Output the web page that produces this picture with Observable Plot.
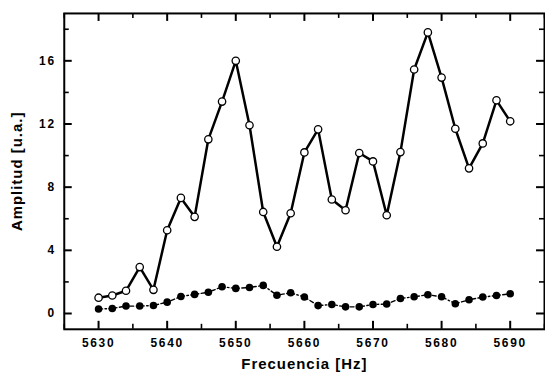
<!DOCTYPE html>
<html>
<head>
<meta charset="utf-8">
<script src="https://cdn.jsdelivr.net/npm/d3@7"></script>
<script src="https://cdn.jsdelivr.net/npm/@observablehq/plot@0.6"></script>
<style>
  html, body { margin: 0; padding: 0; background: #fff; overflow: hidden; }
  svg text { font-family: "Liberation Sans", Arial, sans-serif; font-weight: bold; }
  g[aria-label$="tick label"] text { font-size: 12px; letter-spacing: 1.7px; }
  g[aria-label="x-axis label"] text, g[aria-label="y-axis label"] text { font-size: 15px; letter-spacing: 1px; }
</style>
</head>
<body>
<div id="chart"></div>
<script>
const freq = [5630, 5632, 5634, 5636, 5638, 5640, 5642, 5644, 5646, 5648, 5650, 5652, 5654, 5656, 5658, 5660,
              5662, 5664, 5666, 5668, 5670, 5672, 5674, 5676, 5678, 5680, 5682, 5684, 5686, 5688, 5690];
const openSeries = [1.0, 1.14, 1.44, 2.94, 1.5, 5.27, 7.32, 6.12, 11.03, 13.42, 16.0, 11.92, 6.43, 4.23, 6.35, 10.2,
                    11.66, 7.22, 6.54, 10.16, 9.63, 6.22, 10.22, 15.45, 17.8, 14.94, 11.7, 9.19, 10.77, 13.5, 12.17];
const filledSeries = [0.28, 0.32, 0.47, 0.47, 0.51, 0.72, 1.08, 1.21, 1.35, 1.69, 1.59, 1.65, 1.78, 1.16, 1.31, 1.04,
                      0.5, 0.57, 0.42, 0.42, 0.57, 0.6, 0.95, 1.06, 1.19, 1.06, 0.62, 0.87, 1.04, 1.14, 1.25];
const xMajor = [5630, 5640, 5650, 5660, 5670, 5680, 5690];
const xMinor = [5625, 5635, 5645, 5655, 5665, 5675, 5685, 5695];
const yMajor = [0, 4, 8, 12, 16];
const yMinor = [2, 6, 10, 14, 18];
const xTitle = "Frecuencia [Hz]";
const yTitle = "Amplitud [u.a.]";

const xDomain = [5625, 5695];
const yDomain = [-1, 19];

const openData = freq.map((f, i) => ({f, v: openSeries[i]}));
const filledData = freq.map((f, i) => ({f, v: filledSeries[i]}));

const W = 547, H = 376, ML = 64, MR = 1, MT = 13, MB = 46;
const PW = W - ML - MR, PH = H - MT - MB;
// tick lengths in pixels, converted to data units through the domain spans
const MAJ = 8, MIN = 5;
const kx = (xDomain[1] - xDomain[0]) / PW, ky = (yDomain[1] - yDomain[0]) / PH;

const chart = Plot.plot({
  width: W,
  height: H,
  marginLeft: ML,
  marginRight: MR,
  marginTop: MT,
  marginBottom: MB,
  style: {background: "white", color: "black"},
  x: {domain: xDomain},
  y: {domain: yDomain},
  marks: [
    Plot.frame({stroke: "black", strokeWidth: 2, fill: "none"}),
    Plot.axisX(xMajor, {anchor: "bottom", tickSize: 0, tickPadding: 9, tickFormat: d => String(d),
      label: xTitle, labelAnchor: "center", labelArrow: "none", labelOffset: 40}),
    Plot.axisY(yMajor, {anchor: "left", tickSize: 0, tickPadding: 8.5, tickFormat: d => String(d),
      label: yTitle, labelAnchor: "center", labelArrow: "none", labelOffset: 53}),
    // inward ticks on all four sides
    Plot.ruleX(xMajor, {x: d => d, y1: yDomain[0], y2: yDomain[0] + MAJ * ky, stroke: "black", strokeWidth: 2}),
    Plot.ruleX(xMinor, {x: d => d, y1: yDomain[0], y2: yDomain[0] + MIN * ky, stroke: "black", strokeWidth: 1.6}),
    Plot.ruleX(xMajor, {x: d => d, y1: yDomain[1] - MAJ * ky, y2: yDomain[1], stroke: "black", strokeWidth: 2}),
    Plot.ruleX(xMinor, {x: d => d, y1: yDomain[1] - MIN * ky, y2: yDomain[1], stroke: "black", strokeWidth: 1.6}),
    Plot.ruleY(yMajor, {y: d => d, x1: xDomain[0], x2: xDomain[0] + MAJ * kx, stroke: "black", strokeWidth: 2}),
    Plot.ruleY(yMinor, {y: d => d, x1: xDomain[0], x2: xDomain[0] + MIN * kx, stroke: "black", strokeWidth: 1.6}),
    Plot.ruleY(yMajor, {y: d => d, x1: xDomain[1] - MAJ * kx, x2: xDomain[1], stroke: "black", strokeWidth: 2}),
    Plot.ruleY(yMinor, {y: d => d, x1: xDomain[1] - MIN * kx, x2: xDomain[1], stroke: "black", strokeWidth: 1.6}),
    // series
    Plot.line(filledData, {x: "f", y: "v", stroke: "black", strokeWidth: 1.4, strokeDasharray: "4,2.5,1.5,2.5"}),
    Plot.dot(filledData, {x: "f", y: "v", r: 3.8, fill: "black", stroke: "none"}),
    Plot.line(openData, {x: "f", y: "v", stroke: "black", strokeWidth: 2.5}),
    Plot.dot(openData, {x: "f", y: "v", r: 3.7, fill: "white", stroke: "black", strokeWidth: 1.3})
  ]
});
document.getElementById("chart").appendChild(chart);
</script>
</body>
</html>
